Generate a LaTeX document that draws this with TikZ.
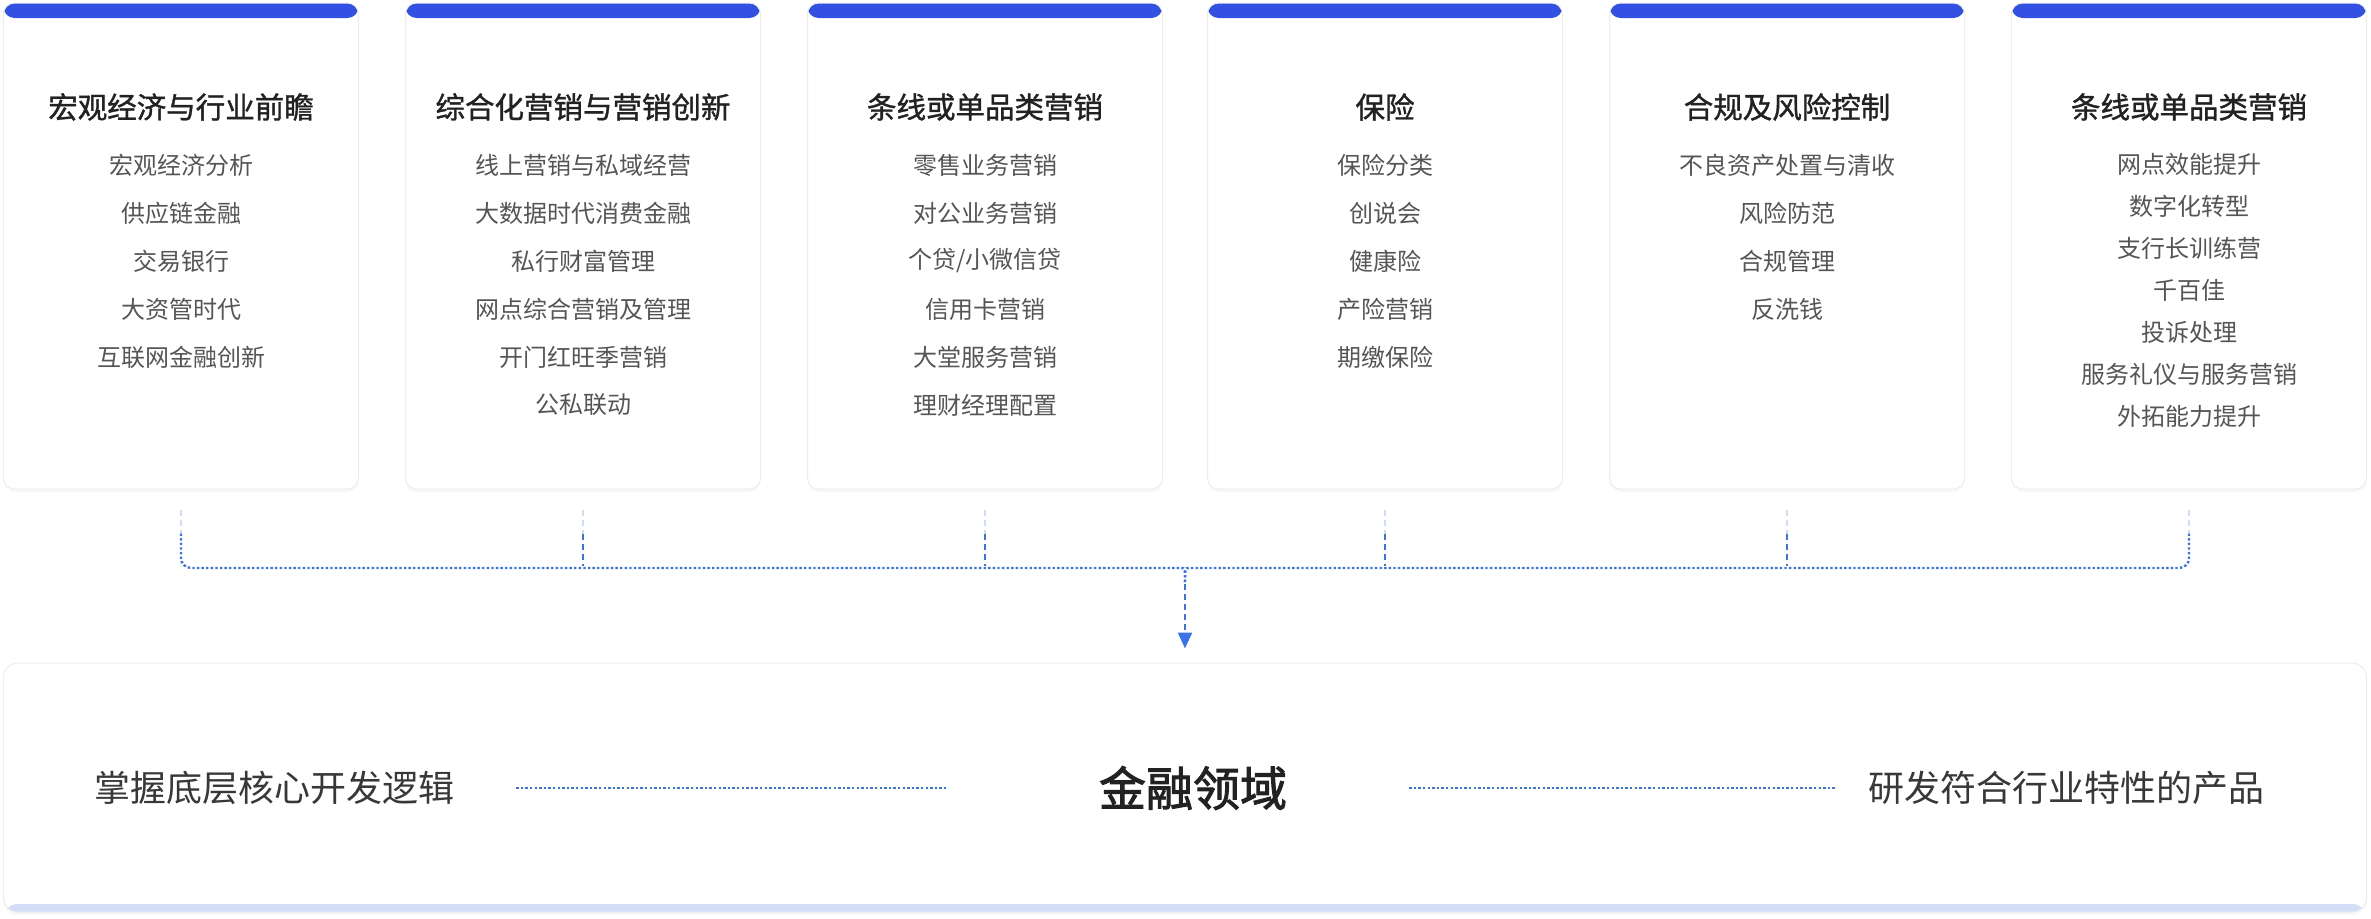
\documentclass[tikz,border=0pt]{standalone}
\usepackage{fontspec}
\setmainfont{Noto Sans CJK SC}
\newfontfamily\headfont{Noto Sans CJK SC}[FakeBold=1.2]
\newfontfamily\corefont{Noto Sans CJK SC}[FakeBold=2]
\usetikzlibrary{arrows.meta,shadows}
\definecolor{hdblue}{HTML}{3250E2}
\definecolor{lnblue}{HTML}{3A74E8}
\definecolor{paleblue}{HTML}{D2DDF8}
\definecolor{darktext}{HTML}{222222}
\definecolor{greytext}{HTML}{555555}

\begin{document}
\begin{tikzpicture}[x=1pt,y=1pt,
  card/.style={rectangle,rounded corners=11pt,minimum width=355pt,minimum height=486pt,
    fill=white,draw=black!7,line width=1pt,
    drop shadow={opacity=0.06,shadow xshift=0pt,shadow yshift=-3pt},
    path picture={\fill[hdblue] (path picture bounding box.north west) rectangle ([yshift=-15pt]path picture bounding box.north east);}},
  basebox/.style={rectangle,rounded corners=14pt,minimum width=2363pt,minimum height=249pt,
    fill=white,draw=black!7,line width=1pt,
    drop shadow={opacity=0.06,shadow xshift=0pt,shadow yshift=-3pt},
    path picture={\fill[paleblue] (path picture bounding box.south west) rectangle ([yshift=8pt]path picture bounding box.south east);}},
  head/.style={inner sep=0pt,text=darktext,font=\headfont\fontsize{29.5}{34}\selectfont},
  item/.style={inner sep=0pt,text=greytext,font=\fontsize{24}{28}\selectfont},
  side/.style={inner sep=0pt,text=darktext!90,font=\fontsize{36}{42}\selectfont},
  core/.style={inner sep=0pt,text=darktext,font=\corefont\fontsize{47}{54}\selectfont},
  link/.style={lnblue,line width=2.4pt,dash pattern=on 2.4pt off 2.2pt},
  drop/.style={lnblue,line width=2.2pt,dash pattern=on 6pt off 4pt},
  faint/.style={drop,draw=lnblue!25},
  thin/.style={lnblue,line width=2.4pt,dash pattern=on 2.4pt off 2.2pt}]
\useasboundingbox (0,0) rectangle (2371,-918);

% six topic cards
\path node (c1) at (181,-246) [card] {}
node (c2) at (583,-246) [card] {}
node (c3) at (985,-246) [card] {}
node (c4) at (1385,-246) [card] {}
node (c5) at (1787,-246) [card] {}
node (c6) at (2189,-246) [card] {};

\path node (t1) at (181,-107) [head] {宏观经济与行业前瞻}
node (t2) at (583,-107) [head] {综合化营销与营销创新}
node (t3) at (985,-107) [head] {条线或单品类营销}
node (t4) at (1385,-107) [head] {保险}
node (t5) at (1787,-107) [head] {合规及风险控制}
node (t6) at (2189,-107) [head] {条线或单品类营销};

\path node (c1i1) at (181,-165) [item] {宏观经济分析}
node (c1i2) at (181,-213) [item] {供应链金融}
node (c1i3) at (181,-261) [item] {交易银行}
node (c1i4) at (181,-309) [item] {大资管时代}
node (c1i5) at (181,-357) [item] {互联网金融创新};

\path node (c2i1) at (583,-165) [item] {线上营销与私域经营}
node (c2i2) at (583,-213) [item] {大数据时代消费金融}
node (c2i3) at (583,-261) [item] {私行财富管理}
node (c2i4) at (583,-309) [item] {网点综合营销及管理}
node (c2i5) at (583,-357) [item] {开门红旺季营销}
node (c2i6) at (583,-405) [item] {公私联动};

\path node (c3i1) at (985,-165) [item] {零售业务营销}
node (c3i2) at (985,-213) [item] {对公业务营销}
node (c3i3) at (985,-261) [item] {个贷/小微信贷}
node (c3i4) at (985,-309) [item] {信用卡营销}
node (c3i5) at (985,-357) [item] {大堂服务营销}
node (c3i6) at (985,-405) [item] {理财经理配置};

\path node (c4i1) at (1385,-165) [item] {保险分类}
node (c4i2) at (1385,-213) [item] {创说会}
node (c4i3) at (1385,-261) [item] {健康险}
node (c4i4) at (1385,-309) [item] {产险营销}
node (c4i5) at (1385,-357) [item] {期缴保险};

\path node (c5i1) at (1787,-165) [item] {不良资产处置与清收}
node (c5i2) at (1787,-213) [item] {风险防范}
node (c5i3) at (1787,-261) [item] {合规管理}
node (c5i4) at (1787,-309) [item] {反洗钱};

\path node (c6i1) at (2189,-164) [item] {网点效能提升}
node (c6i2) at (2189,-206) [item] {数字化转型}
node (c6i3) at (2189,-248) [item] {支行长训练营}
node (c6i4) at (2189,-290) [item] {千百佳}
node (c6i5) at (2189,-332) [item] {投诉处理}
node (c6i6) at (2189,-374) [item] {服务礼仪与服务营销}
node (c6i7) at (2189,-416) [item] {外拓能力提升};

% bottom box
\node (base) at (1185,-787.5) [basebox] {};
\path node (lt) at (274,-788) [side] {掌握底层核心开发逻辑}
node (mid) at (1193,-788) [core] {金融领域}
node (rt) at (2066,-788) [side] {研发符合行业特性的产品};

% connectors
\coordinate (hub) at (1185,-568);
\coordinate (fork) at (1185,-584);
\draw[faint] ([yshift=-20pt]c1.south) -- ([yshift=-44pt]c1.south);
\draw[faint] ([yshift=-20pt]c2.south) -- ([yshift=-44pt]c2.south);
\draw[faint] ([yshift=-20pt]c3.south) -- ([yshift=-44pt]c3.south);
\draw[faint] ([yshift=-20pt]c4.south) -- ([yshift=-44pt]c4.south);
\draw[faint] ([yshift=-20pt]c5.south) -- ([yshift=-44pt]c5.south);
\draw[faint] ([yshift=-20pt]c6.south) -- ([yshift=-44pt]c6.south);
\draw[drop] ([yshift=-44pt]c2.south) -- ([yshift=-76pt]c2.south);
\draw[drop] ([yshift=-44pt]c3.south) -- ([yshift=-76pt]c3.south);
\draw[drop] ([yshift=-44pt]c4.south) -- ([yshift=-76pt]c4.south);
\draw[drop] ([yshift=-44pt]c5.south) -- ([yshift=-76pt]c5.south);
\draw[link,rounded corners=10pt] ([yshift=-44pt]c1.south) |- ([xshift=-14pt]hub) .. controls (hub) .. (fork);
\draw[link,rounded corners=10pt] ([yshift=-44pt]c6.south) |- ([xshift=14pt]hub) .. controls (hub) .. (fork);
\draw[drop,-{Triangle[length=16pt,width=14pt]},shorten >=14pt] (fork) -- (base.north);

\draw[thin,shorten <=62pt,shorten >=151pt] (lt) -- (mid);
\draw[thin,shorten <=122pt,shorten >=31pt] (mid) -- (rt);
\end{tikzpicture}
\end{document}
